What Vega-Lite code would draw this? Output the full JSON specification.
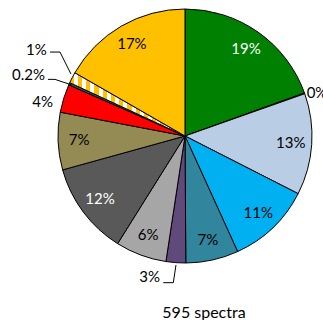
{
  "$schema": "https://vega.github.io/schema/vega-lite/v6.json",
  "autosize": {"type": "none"},
  "padding": {"left": 47, "top": 0, "right": 0, "bottom": 48},
  "width": 276,
  "height": 272,
  "background": "white",
  "config": {"view": {"stroke": null}, "font": "Lato"},
  "title": {"text": "595 spectra", "orient": "bottom", "anchor": "middle", "baseline": "top", "offset": 20, "dx": 19, "fontSize": 16, "fontWeight": "normal", "font": "Lato", "color": "#000000"},
  "datasets": {
    "slices": [
      {"k": 1, "cat": "A", "value": 19.5, "label": "19%", "pos": "in"},
      {"k": 2, "cat": "B", "value": 0.1, "label": "0%", "pos": "out"},
      {"k": 3, "cat": "C", "value": 12.9, "label": "13%", "pos": "in"},
      {"k": 4, "cat": "D", "value": 10.7, "label": "11%", "pos": "in"},
      {"k": 5, "cat": "E", "value": 6.7, "label": "7%", "pos": "in"},
      {"k": 6, "cat": "F", "value": 2.5, "label": "3%", "pos": "out"},
      {"k": 7, "cat": "G", "value": 6.5, "label": "6%", "pos": "in"},
      {"k": 8, "cat": "H", "value": 11.8, "label": "12%", "pos": "in"},
      {"k": 9, "cat": "I", "value": 7.3, "label": "7%", "pos": "in"},
      {"k": 10, "cat": "J", "value": 3.6, "label": "4%", "pos": "out"},
      {"k": 11, "cat": "K", "value": 0.3, "label": "0.2%", "pos": "out"},
      {"k": 12, "cat": "L", "value": 1.4, "label": "1%", "pos": "out"},
      {"k": 13, "cat": "M", "value": 16.7, "label": "17%", "pos": "in"}
    ],
    "outside": [
      {"label": "0%", "x": 0.958, "y": 0.341, "side": "left"},
      {"label": "3%", "x": -0.197, "y": -1.108, "side": "right"},
      {"label": "4%", "x": -1.039, "y": 0.27, "side": "right"},
      {"label": "0.2%", "x": -1.102, "y": 0.48, "side": "right"},
      {"label": "1%", "x": -1.089, "y": 0.677, "side": "right"}
    ],
    "leaders": [
      {"id": "1%", "seq": 1, "x": -1.063, "y": 0.661},
      {"id": "1%", "seq": 2, "x": -0.984, "y": 0.661},
      {"id": "1%", "seq": 3, "x": -0.898, "y": 0.488},
      {"id": "0.2%", "seq": 1, "x": -1.079, "y": 0.446},
      {"id": "0.2%", "seq": 2, "x": -1.024, "y": 0.446},
      {"id": "0.2%", "seq": 3, "x": -0.892, "y": 0.402},
      {"id": "3%", "seq": 1, "x": -0.071, "y": -1.016},
      {"id": "3%", "seq": 2, "x": -0.092, "y": -1.155},
      {"id": "3%", "seq": 3, "x": -0.171, "y": -1.155}
    ]
  },
  "layer": [
    {
      "data": {"name": "slices"},
      "mark": {"type": "arc", "radius": 127, "stroke": "#000000", "strokeWidth": 1},
      "encoding": {
        "theta": {"field": "value", "type": "quantitative", "stack": true},
        "order": {"field": "k", "type": "quantitative"},
        "color": {
          "condition": {"test": "datum.cat === 'L'", "value": {"gradient": "linear", "x1": 0, "y1": 0, "x2": 1, "y2": 0, "stops": [
            {"offset": 0.0, "color": "#FFC000"}, {"offset": 0.036, "color": "#FFC000"}, {"offset": 0.036, "color": "#FFFFFF"}, {"offset": 0.071, "color": "#FFFFFF"},
            {"offset": 0.071, "color": "#FFC000"}, {"offset": 0.107, "color": "#FFC000"}, {"offset": 0.107, "color": "#FFFFFF"}, {"offset": 0.143, "color": "#FFFFFF"},
            {"offset": 0.143, "color": "#FFC000"}, {"offset": 0.179, "color": "#FFC000"}, {"offset": 0.179, "color": "#FFFFFF"}, {"offset": 0.214, "color": "#FFFFFF"},
            {"offset": 0.214, "color": "#FFC000"}, {"offset": 0.25, "color": "#FFC000"}, {"offset": 0.25, "color": "#FFFFFF"}, {"offset": 0.286, "color": "#FFFFFF"},
            {"offset": 0.286, "color": "#FFC000"}, {"offset": 0.321, "color": "#FFC000"}, {"offset": 0.321, "color": "#FFFFFF"}, {"offset": 0.357, "color": "#FFFFFF"},
            {"offset": 0.357, "color": "#FFC000"}, {"offset": 0.393, "color": "#FFC000"}, {"offset": 0.393, "color": "#FFFFFF"}, {"offset": 0.429, "color": "#FFFFFF"},
            {"offset": 0.429, "color": "#FFC000"}, {"offset": 0.464, "color": "#FFC000"}, {"offset": 0.464, "color": "#FFFFFF"}, {"offset": 0.5, "color": "#FFFFFF"},
            {"offset": 0.5, "color": "#FFC000"}, {"offset": 0.536, "color": "#FFC000"}, {"offset": 0.536, "color": "#FFFFFF"}, {"offset": 0.571, "color": "#FFFFFF"},
            {"offset": 0.571, "color": "#FFC000"}, {"offset": 0.607, "color": "#FFC000"}, {"offset": 0.607, "color": "#FFFFFF"}, {"offset": 0.643, "color": "#FFFFFF"},
            {"offset": 0.643, "color": "#FFC000"}, {"offset": 0.679, "color": "#FFC000"}, {"offset": 0.679, "color": "#FFFFFF"}, {"offset": 0.714, "color": "#FFFFFF"},
            {"offset": 0.714, "color": "#FFC000"}, {"offset": 0.75, "color": "#FFC000"}, {"offset": 0.75, "color": "#FFFFFF"}, {"offset": 0.786, "color": "#FFFFFF"},
            {"offset": 0.786, "color": "#FFC000"}, {"offset": 0.821, "color": "#FFC000"}, {"offset": 0.821, "color": "#FFFFFF"}, {"offset": 0.857, "color": "#FFFFFF"},
            {"offset": 0.857, "color": "#FFC000"}, {"offset": 0.893, "color": "#FFC000"}, {"offset": 0.893, "color": "#FFFFFF"}, {"offset": 0.929, "color": "#FFFFFF"},
            {"offset": 0.929, "color": "#FFC000"}, {"offset": 0.964, "color": "#FFC000"}, {"offset": 0.964, "color": "#FFFFFF"}, {"offset": 1.0, "color": "#FFFFFF"}
          ]}},
          "field": "cat",
          "type": "nominal",
          "legend": null,
          "scale": {
            "domain": ["A", "B", "C", "D", "E", "F", "G", "H", "I", "J", "K", "L", "M"],
            "range": ["#008000", "#4472C4", "#B9CDE5", "#00B0F0", "#31859C", "#604A7B", "#A6A6A6", "#595959", "#948A54", "#FF0000", "#215968", "#FFE699", "#FFC000"]
          }
        }
      }
    },
    {
      "data": {"name": "slices"},
      "mark": {"type": "text", "radius": 106, "fontSize": 15, "font": "Lato", "align": "center", "baseline": "middle"},
      "encoding": {
        "theta": {"field": "value", "type": "quantitative", "stack": true},
        "order": {"field": "k", "type": "quantitative"},
        "text": {"field": "label", "type": "nominal"},
        "opacity": {"condition": {"test": "datum.pos === 'out'", "value": 0}, "value": 1},
        "color": {"condition": {"test": "datum.cat === 'A' || datum.cat === 'H'", "value": "#FFFFFF"}, "value": "#000000"}
      }
    },
    {
      "data": {"name": "leaders"},
      "mark": {"type": "line", "color": "#000000", "strokeWidth": 1},
      "encoding": {
        "x": {"field": "x", "type": "quantitative", "axis": null, "scale": {"domain": [-1.0866, 1.0866], "nice": false, "zero": false}},
        "y": {"field": "y", "type": "quantitative", "axis": null, "scale": {"domain": [-1.0709, 1.0709], "nice": false, "zero": false}},
        "detail": {"field": "id", "type": "nominal"},
        "order": {"field": "seq", "type": "quantitative"}
      }
    },
    {
      "data": {"name": "outside"},
      "transform": [{"filter": "datum.side === 'right'"}],
      "mark": {"type": "text", "fontSize": 15, "font": "Lato", "align": "right", "baseline": "middle", "color": "#000000"},
      "encoding": {
        "x": {"field": "x", "type": "quantitative"},
        "y": {"field": "y", "type": "quantitative"},
        "text": {"field": "label", "type": "nominal"}
      }
    },
    {
      "data": {"name": "outside"},
      "transform": [{"filter": "datum.side === 'left'"}],
      "mark": {"type": "text", "fontSize": 15, "font": "Lato", "align": "left", "baseline": "middle", "color": "#000000"},
      "encoding": {
        "x": {"field": "x", "type": "quantitative"},
        "y": {"field": "y", "type": "quantitative"},
        "text": {"field": "label", "type": "nominal"}
      }
    }
  ]
}
